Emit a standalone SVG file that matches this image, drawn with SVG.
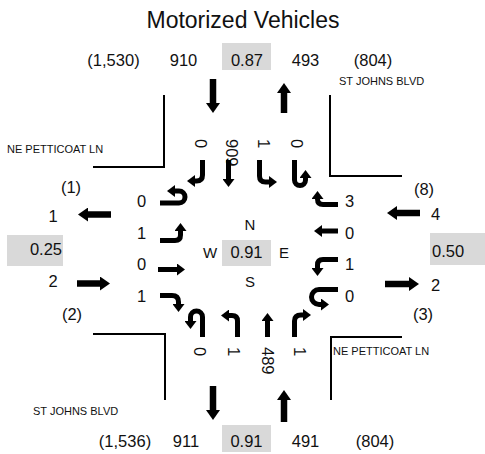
<svg xmlns="http://www.w3.org/2000/svg" width="485" height="454" viewBox="0 0 485 454">
<style>
text{fill:#111;font-family:"Liberation Sans",Arial,sans-serif}
.n{font-size:16.5px}
.c{font-size:16.5px;text-anchor:middle}
.s{font-size:11px}
.t{font-size:23px;text-anchor:middle}
.box{fill:#d9d9d9}
.curb{fill:none;stroke:#000;stroke-width:2}
.a{fill:none;stroke:#000;stroke-width:5;marker-end:url(#ah)}
.b{fill:none;stroke:#000;stroke-width:6.5;marker-end:url(#bh)}
</style>
<defs>
<marker id="ah" markerUnits="userSpaceOnUse" markerWidth="8" markerHeight="12" viewBox="0 0 8 12" refX="1" refY="6" orient="auto"><path d="M0,0 L8,6 L0,12 z" fill="#000"/></marker>
<marker id="bh" markerUnits="userSpaceOnUse" markerWidth="10" markerHeight="14" viewBox="0 0 10 14" refX="1" refY="7" orient="auto"><path d="M0,0 L10,7 L0,14 z" fill="#000"/></marker>
</defs>
<rect width="485" height="454" fill="#fff"/>
<text class="t" x="243" y="28">Motorized Vehicles</text>

<g id="curbs">
<path class="curb" d="M164,95 V167 H93"/>
<path class="curb" d="M330,95 V176 H402"/>
<path class="curb" d="M93,334 H165 V400"/>
<path class="curb" d="M331,400 V337 H402"/>
</g>

<g id="streets">
<text class="s" x="7" y="153">NE PETTICOAT LN</text>
<text class="s" x="339" y="85">ST JOHNS BLVD</text>
<text class="s" x="33" y="415">ST JOHNS BLVD</text>
<text class="s" x="333" y="355">NE PETTICOAT LN</text>
</g>

<g id="north-leg">
<text class="c" x="113.5" y="66">(1,530)</text>
<text class="c" x="183.5" y="66">910</text>
<rect class="box" x="222" y="43" width="49" height="27"/>
<text class="c" x="247" y="66">0.87</text>
<text class="c" x="305.5" y="66">493</text>
<text class="c" x="373" y="66">(804)</text>
</g>

<g id="south-leg">
<text class="c" x="125" y="447">(1,536)</text>
<text class="c" x="186" y="447">911</text>
<rect class="box" x="222" y="425" width="49" height="27"/>
<text class="c" x="246.5" y="447">0.91</text>
<text class="c" x="305.5" y="447">491</text>
<text class="c" x="375" y="447">(804)</text>
</g>

<g id="west-leg">
<text class="c" x="71" y="193">(1)</text>
<text class="c" x="53" y="222">1</text>
<rect class="box" x="7" y="235" width="56" height="31"/>
<text class="n" x="62" y="255" text-anchor="end">0.25</text>
<text class="c" x="53" y="287">2</text>
<text class="c" x="72" y="320">(2)</text>
</g>

<g id="east-leg">
<text class="c" x="424" y="195">(8)</text>
<text class="n" x="431" y="220">4</text>
<rect class="box" x="430" y="233" width="55" height="32"/>
<text class="n" x="432" y="257">0.50</text>
<text class="n" x="431" y="291">2</text>
<text class="c" x="423" y="320">(3)</text>
</g>

<g id="center">
<text class="c" x="250" y="230" style="font-size:15px">N</text>
<text class="c" x="210" y="258" style="font-size:15px">W</text>
<rect class="box" x="222" y="240" width="49" height="26"/>
<text class="c" x="246.5" y="258">0.91</text>
<text class="c" x="284" y="258" style="font-size:15px">E</text>
<text class="c" x="250" y="287" style="font-size:15px">S</text>
</g>

<g id="southbound-lanes">
<text class="n" transform="translate(201,139) rotate(90)" dy=".35em">0</text>
<text class="n" transform="translate(232,139) rotate(90)" dy=".35em">909</text>
<text class="n" transform="translate(264,139) rotate(90)" dy=".35em">1</text>
<text class="n" transform="translate(297,139) rotate(90)" dy=".35em">0</text>
</g>
<g id="northbound-lanes">
<text class="n" transform="translate(200,347) rotate(90)" dy=".35em">0</text>
<text class="n" transform="translate(234,347) rotate(90)" dy=".35em">1</text>
<text class="n" transform="translate(268,347) rotate(90)" dy=".35em">489</text>
<text class="n" transform="translate(300,347) rotate(90)" dy=".35em">1</text>
</g>
<g id="eastbound-lanes">
<text class="c" x="141.5" y="207">0</text>
<text class="c" x="141.5" y="239">1</text>
<text class="c" x="141.5" y="270">0</text>
<text class="c" x="141.5" y="302">1</text>
</g>
<g id="westbound-lanes">
<text class="n" x="345" y="207">3</text>
<text class="n" x="345" y="239">0</text>
<text class="n" x="345" y="270">1</text>
<text class="n" x="345" y="302">0</text>
</g>

<g id="connectors">
<path class="b" d="M213,79 V104"/>
<path class="b" d="M284,113 V92"/>
<path class="b" d="M213,386 V411"/>
<path class="b" d="M284,422 V399"/>
<path class="b" d="M111,214.5 H87"/>
<path class="b" d="M77,283.5 H101"/>
<path class="b" d="M420,213 H396"/>
<path class="b" d="M385,284 H410"/>

<path class="a" d="M202.5,160 V175 Q202.5,181 196.5,181 H194"/>
<path class="a" d="M228.5,160 V180"/>
<path class="a" d="M259.5,160 V176 Q259.5,182 265.5,182 H270"/>
<path class="a" d="M294.5,160 V180 A5.5,5.5 0 0 0 305.5,180 V177"/>

<path class="a" d="M160,203 H179 A6,6 0 0 0 179,191 H174"/>
<path class="a" d="M160,240.5 H175 Q180.5,240.5 180.5,235 V230"/>
<path class="a" d="M158,269.5 H178"/>
<path class="a" d="M160,295.5 H172 Q178.5,295.5 178.5,302 V305"/>

<path class="a" d="M338,204.5 H323 Q317.5,204.5 317.5,199 V198"/>
<path class="a" d="M338,231 H321"/>
<path class="a" d="M338,259.5 H323 Q317.5,259.5 317.5,265 V269"/>
<path class="a" d="M338,289.5 H319 A7.5,7.5 0 0 0 319,304.5 H322"/>

<path class="a" d="M202.5,337 V317 A6,6 0 0 0 190.5,317 V322"/>
<path class="a" d="M237.5,337 V321 Q237.5,315.5 232,315.5 H228"/>
<path class="a" d="M267.5,337 V320"/>
<path class="a" d="M294.5,337 V321 Q294.5,315 301,315 H304"/>
</g>
</svg>
